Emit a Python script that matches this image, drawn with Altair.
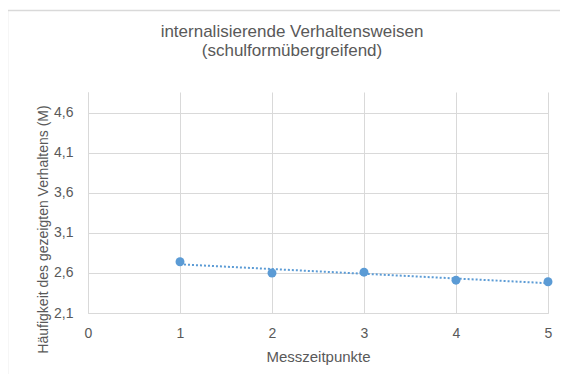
import altair as alt
import pandas as pd

# Data
zeitpunkte = [1, 2, 3, 4, 5]
mittelwerte = [2.74, 2.60, 2.61, 2.51, 2.49]
y_ticks = [2.1, 2.6, 3.1, 3.6, 4.1, 4.6]
x_ticks = [0, 1, 2, 3, 4, 5]
titel_zeilen = ["internalisierende Verhaltensweisen", "(schulformübergreifend)"]

df = pd.DataFrame({"t": zeitpunkte, "m": mittelwerte})

blue = "#5b9bd5"
grey_text = "#595959"
grid = "#d9d9d9"
font = "Liberation Sans"

x_enc = alt.X(
    "t:Q",
    scale=alt.Scale(domain=[0, 5], nice=False, zero=False),
    axis=alt.Axis(
        values=x_ticks,
        title="Messzeitpunkte",
        titleFontSize=15,
        titleY=48,
        titleBaseline="alphabetic",
        labelPadding=13,
        labelFlush=False,
        ticks=False,
        domainColor=grid,
        gridColor=grid,
    ),
)
y_enc = alt.Y(
    "m:Q",
    scale=alt.Scale(domain=[2.1, 4.86], nice=False, zero=False),
    axis=alt.Axis(
        values=y_ticks,
        labelExpr="replace(format(datum.value, '.1f'), '.', ',')",
        title="Häufigkeit des gezeigten Verhaltens (M)",
        titleFontSize=14,
        titleX=-41,
        titleY=137,
        titleBaseline="alphabetic",
        labelPadding=15,
        ticks=False,
        domainColor=grid,
        gridColor=grid,
    ),
)

base = alt.Chart(df)

trend = base.transform_regression("t", "m").mark_line(
    color=blue, strokeDash=[2, 2], strokeWidth=2
).encode(x=x_enc, y=y_enc)

points = base.mark_circle(color=blue, size=80, opacity=1).encode(x=x_enc, y=y_enc)

single = pd.DataFrame({"z1": [titel_zeilen[0]], "z2": [titel_zeilen[1]]})

title1 = alt.Chart(single).mark_text(
    font=font, fontSize=17, color=grey_text, align="center", baseline="alphabetic"
).encode(text="z1:N", x=alt.value(204), y=alt.value(-55))
title2 = alt.Chart(single).mark_text(
    font=font, fontSize=17, color=grey_text, align="center", baseline="alphabetic"
).encode(text="z2:N", x=alt.value(204), y=alt.value(-36))

border_top = alt.Chart(single).mark_rule(color="#d9d9d9", strokeWidth=1.5).encode(
    x=alt.value(-80), x2=alt.value(480), y=alt.value(-81.5)
)
border_left = alt.Chart(single).mark_rule(color="#d9d9d9", strokeWidth=1.5).encode(
    x=alt.value(-80.5), y=alt.value(-82), y2=alt.value(300)
)

chart = (
    alt.layer(border_top, border_left, title1, title2, trend, points)
    .properties(
        width=460,
        height=221,
        autosize=alt.AutoSizeParams(type="none"),
        padding={"left": 80, "top": 84, "right": 12, "bottom": 61},
    )
    .configure_axis(
        labelFont=font,
        titleFont=font,
        labelFontSize=14,
        labelColor=grey_text,
        titleColor=grey_text,
        titleFontWeight="normal",
    )
    .configure_view(stroke=None)
)

chart.save("out.html", embed_options={"renderer": "svg", "actions": False})
